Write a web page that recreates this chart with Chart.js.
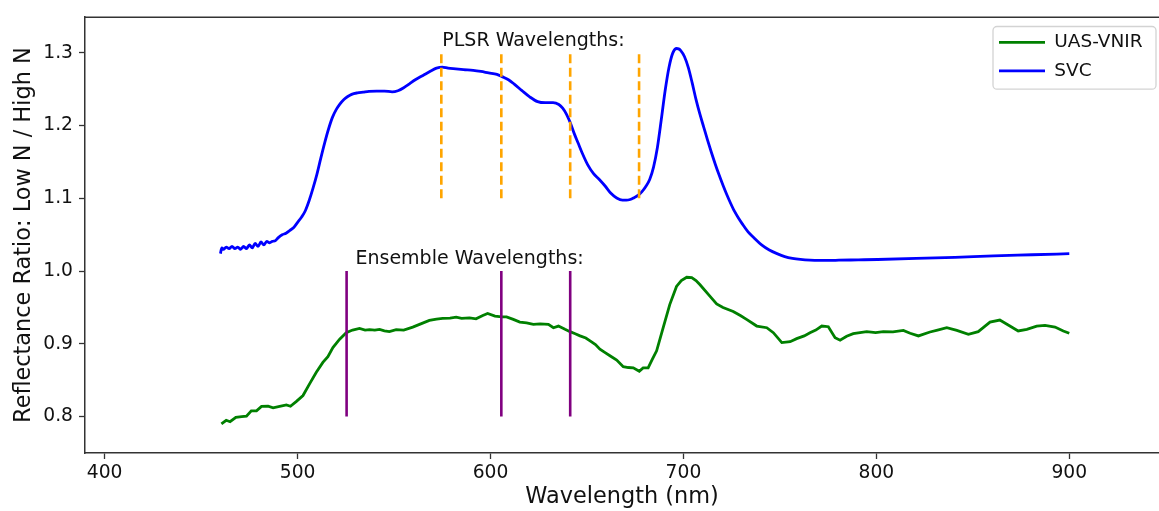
<!DOCTYPE html>
<html><head><meta charset="utf-8">
<script src="https://cdn.jsdelivr.net/npm/chart.js@4"></script>
<style>html,body{margin:0;padding:0;background:#fff;}#wrap{width:1159px;height:511px;}</style>
</head><body><div id="wrap"><canvas id="c" width="1159" height="511"></canvas></div>
<script>
// ---- data ----
const svcWavelengths = [460,460.7,461.5,463,464.5,466,467.5,469,470.5,472,473.5,475,476.5,478,479.5,481,482.5,484,485.5,487,488.5,490,492,494,496,498,500,502,504,506,508,510,512,514,516,518,520,522,524,526,528,531,534,537,541,545,549,552,555,558,561,565,569,572,575,578,582,586,591,595,599,603.3,606.3,609.3,612.3,616.3,620.3,624.4,628.4,632.4,635.4,637.4,639.4,641.4,643.4,645.4,647.4,650.4,653.4,656.4,659.4,662.4,665.4,668.4,670.4,672.4,674.4,676.4,678.4,680.4,682.5,684.5,686.5,688.5,690.5,692.5,694.5,696.5,697.5,698.5,700.5,702.5,704.5,706.5,708.5,710.5,712.5,714.5,716.5,718.5,720.5,722.5,724.5,726.5,728.5,730.5,733.5,736.5,740.5,744.5,748.5,752.5,756.5,760.6,765.6,770.6,775.6,780.6,790.6,800.6,820.7,840.7,860.7,880.8,900];
const svcValues = [1.024,1.032,1.030,1.033,1.031,1.034,1.031,1.033,1.030,1.034,1.031,1.036,1.032,1.038,1.034,1.040,1.036,1.041,1.039,1.041,1.042,1.046,1.050,1.052,1.056,1.060,1.067,1.074,1.083,1.097,1.114,1.133,1.155,1.176,1.195,1.211,1.222,1.230,1.236,1.240,1.243,1.245,1.246,1.247,1.2475,1.2475,1.2465,1.248,1.252,1.2575,1.263,1.269,1.275,1.279,1.2805,1.279,1.278,1.277,1.276,1.2745,1.2725,1.2705,1.267,1.263,1.257,1.248,1.2395,1.233,1.2315,1.2315,1.229,1.224,1.2155,1.2035,1.189,1.176,1.163,1.146,1.134,1.126,1.117,1.107,1.1005,1.0975,1.0975,1.0985,1.101,1.104,1.109,1.116,1.126,1.143,1.170,1.208,1.248,1.280,1.300,1.306,1.3055,1.3035,1.295,1.280,1.259,1.236,1.216,1.198,1.180,1.163,1.147,1.132,1.118,1.105,1.093,1.082,1.073,1.065,1.054,1.046,1.036,1.029,1.024,1.020,1.0175,1.016,1.015,1.0147,1.0147,1.015,1.0155,1.016,1.0174,1.019,1.021,1.0225,1.024];

const uasWavelengths = [460.5,463,465,468,471,473.5,476,478.7,481.3,484.7,487.3,490.7,494.2,496.3,499.4,502.8,506.2,509.7,513.1,515.7,518.3,521.8,525.2,528.5,532.1,535,537.3,540,542.5,545,547.6,551.1,555,559.7,563.2,568.3,572,575.2,579,582.2,585,589.1,592.5,596,598.5,602.3,605.8,608.3,611.8,615.2,618.7,622.2,625.7,630,632.6,635.2,638.6,641.2,643.9,646.4,649.4,651.6,654.4,656.7,659.4,661.9,665.4,668.8,671.4,674,677.1,679.1,681.7,683.9,686.1,689.5,692.9,696.4,698.9,701.7,704.3,706.5,708.6,713.8,717.2,720.5,725.8,729.5,732.7,738,743.2,746.6,751,755.3,758.7,762.6,765.6,768.6,771.7,775.1,778.6,781.2,784.6,788,795,799.6,803.6,808.6,814,817.5,821.8,827.8,831.7,836.5,841.7,847.7,852.8,855.7,858.9,864,869.2,873.5,878,883.1,887.4,892.6,896.9,900];
const uasValues = [0.790,0.795,0.793,0.799,0.800,0.8005,0.808,0.808,0.814,0.8143,0.812,0.814,0.816,0.8143,0.821,0.829,0.845,0.861,0.8745,0.8823,0.895,0.9064,0.9154,0.919,0.9213,0.919,0.9195,0.919,0.920,0.918,0.9168,0.9195,0.919,0.923,0.9268,0.9322,0.934,0.935,0.9355,0.9367,0.935,0.9358,0.9344,0.939,0.9418,0.9381,0.9372,0.937,0.9336,0.930,0.929,0.9268,0.9276,0.9268,0.9222,0.9245,0.920,0.9168,0.914,0.911,0.908,0.904,0.899,0.8928,0.888,0.8837,0.8778,0.8687,0.8675,0.867,0.8624,0.867,0.867,0.879,0.8905,0.9222,0.954,0.979,0.987,0.9916,0.9912,0.987,0.9812,0.9653,0.955,0.950,0.9445,0.939,0.9336,0.9245,0.9222,0.9154,0.9018,0.903,0.9072,0.911,0.9154,0.919,0.9245,0.9236,0.9086,0.905,0.9105,0.914,0.9168,0.9155,0.9168,0.9165,0.9186,0.9146,0.9109,0.9163,0.919,0.9222,0.9186,0.9132,0.9168,0.923,0.930,0.9327,0.9245,0.9177,0.920,0.9245,0.9254,0.9231,0.9177,0.9146];

const plsrWavelengths = [574.5, 605.6, 641.3, 677.0];
const plsrRange = [1.1, 1.3];
const ensembleWavelengths = [525.4, 605.6, 641.3];
const ensembleRange = [0.8, 1.0];

const xTickValues = [400, 500, 600, 700, 800, 900];
const yTickValues = [0.8, 0.9, 1.0, 1.1, 1.2, 1.3];

const annotationTexts = ['PLSR Wavelengths:', 'Ensemble Wavelengths:'];
const annotationX = [575, 530];
const annotationY = [1.31, 1.01];

const seriesNames = ['UAS-VNIR', 'SVC'];

// ---- build chart ----
Chart.defaults.font.family = '"DejaVu Sans", sans-serif';
Chart.defaults.color = '#111';

const pairs = (xs, ys) => xs.map((x, i) => ({x: x, y: ys[i]}));

const datasets = [
  {label: seriesNames[0], data: pairs(uasWavelengths, uasValues), borderColor: '#008000', backgroundColor: '#008000',
   borderWidth: 2.8, pointRadius: 0, tension: 0, order: 1},
  {label: seriesNames[1], data: pairs(svcWavelengths, svcValues), borderColor: '#0000ff', backgroundColor: '#0000ff',
   borderWidth: 2.8, pointRadius: 0, cubicInterpolationMode: 'monotone', order: 1}
];
plsrWavelengths.forEach(w => datasets.push({
  label: 'PLSR ' + w, data: [{x: w, y: plsrRange[0]}, {x: w, y: plsrRange[1]}],
  borderColor: '#ffa500', borderWidth: 2.6, borderDash: [9, 4.5], pointRadius: 0, order: 0
}));
ensembleWavelengths.forEach(w => datasets.push({
  label: 'Ensemble ' + w, data: [{x: w, y: ensembleRange[0]}, {x: w, y: ensembleRange[1]}],
  borderColor: '#800080', borderWidth: 2.6, pointRadius: 0, order: 0
}));

const decor = {
  id: 'decor',
  afterLayout(chart) {
    const lg = chart.legend, ca = chart.chartArea;
    if (!lg) return;
    const w = lg.width, h = lg.height;
    lg.left = ca.right - 170; lg.right = lg.left + w;
    lg.top = ca.top + 6; lg.bottom = lg.top + h;
  },
  afterDatasetsDraw(chart) {
    const {ctx, scales: {x, y}} = chart;
    ctx.save();
    ctx.font = '19px "DejaVu Sans"';
    ctx.fillStyle = '#111';
    ctx.textAlign = 'left';
    ctx.textBaseline = 'alphabetic';
    annotationTexts.forEach((t, i) => ctx.fillText(t, x.getPixelForValue(annotationX[i]), y.getPixelForValue(annotationY[i])));
    ctx.restore();
  },
  afterDraw(chart) {
    const {ctx, chartArea: ca} = chart;
    ctx.save();
    ctx.strokeStyle = '#333';
    ctx.lineWidth = 1.5;
    ctx.beginPath();
    ctx.moveTo(ca.left, ca.top);
    ctx.lineTo(ca.right + 1, ca.top);
    ctx.stroke();
    // legend frame
    const bx = ca.right - 166, by = ca.top + 9.3, bw = 163, bh = 62.7, r = 4;
    ctx.strokeStyle = '#d3d3d3';
    ctx.lineWidth = 1.3;
    ctx.beginPath();
    ctx.moveTo(bx + r, by);
    ctx.lineTo(bx + bw - r, by); ctx.arcTo(bx + bw, by, bx + bw, by + r, r);
    ctx.lineTo(bx + bw, by + bh - r); ctx.arcTo(bx + bw, by + bh, bx + bw - r, by + bh, r);
    ctx.lineTo(bx + r, by + bh); ctx.arcTo(bx, by + bh, bx, by + bh - r, r);
    ctx.lineTo(bx, by + r); ctx.arcTo(bx, by, bx + r, by, r);
    ctx.closePath();
    ctx.stroke();
    ctx.restore();
  }
};

new Chart(document.getElementById('c'), {
  type: 'line',
  data: {datasets: datasets},
  plugins: [decor],
  options: {
    responsive: false,
    animation: false,
    events: [],
    layout: {padding: {top: 13, right: 0, bottom: 0, left: 0}},
    plugins: {
      tooltip: {enabled: false},
      legend: {
        position: 'chartArea',
        align: 'start',
        labels: {
          filter: item => seriesNames.includes(item.text),
          usePointStyle: true,
          pointStyle: 'line',
          pointStyleWidth: 46,
          padding: 10,
          color: '#111',
          font: {size: 18.5}
        }
      }
    },
    scales: {
      x: {
        type: 'linear',
        min: 389.8,
        max: 946.5,
        afterBuildTicks: s => { s.ticks = xTickValues.map(v => ({value: v})); },
        afterFit: s => { s.height = 58; },
        ticks: {font: {size: 18.7}, color: '#111', padding: 3, maxRotation: 0, autoSkip: false,
                callback: v => String(v)},
        grid: {drawOnChartArea: false, drawTicks: true, tickLength: 6, tickWidth: 1.3, tickColor: '#333'},
        border: {display: true, color: '#333', width: 1.5},
        title: {display: true, text: 'Wavelength (nm)', font: {size: 22.4}, color: '#111', padding: {top: 0, bottom: 0}}
      },
      y: {
        type: 'linear',
        min: 0.75,
        max: 1.349,
        afterBuildTicks: s => { s.ticks = yTickValues.map(v => ({value: v})); },
        afterFit: s => { s.width = 85; },
        ticks: {font: {size: 18.7}, color: '#111', padding: 6, autoSkip: false,
                callback: v => Number(v).toFixed(1)},
        grid: {drawOnChartArea: false, drawTicks: true, tickLength: 6, tickWidth: 1.3, tickColor: '#333'},
        border: {display: true, color: '#333', width: 1.5},
        title: {display: true, text: 'Reflectance Ratio: Low N / High N', font: {size: 22.4}, color: '#111', padding: {top: 10.5, bottom: 0}}
      }
    }
  }
});
</script>
</body></html>
